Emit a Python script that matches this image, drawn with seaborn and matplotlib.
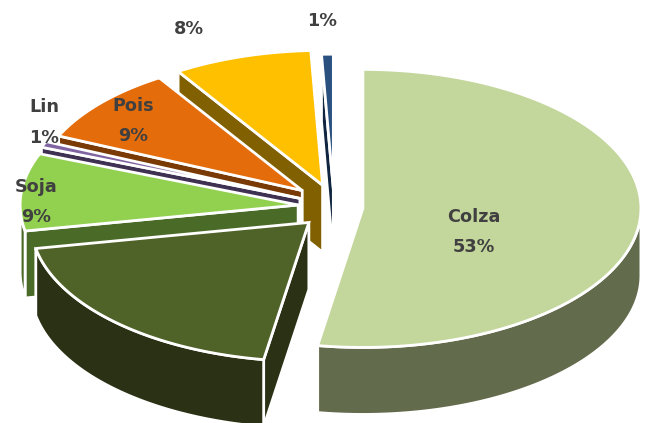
import numpy as np
import matplotlib
matplotlib.use("Agg")
import matplotlib.pyplot as plt
import seaborn as sns

# clockwise from 12 o'clock, labels in the chart are rounded
names = ["Colza", "", "Soja", "Lin", "Pois", "", ""]
values = [52.6, 19.4, 9, 0.7, 9.3, 8.3, 0.7]
show_pct = [True, False, True, True, True, True, True]

top_colors = ["#C3D69B", "#4F6228", "#92D050", "#8064A2", "#E46C0A", "#FFC000", "#2A5080"]
side_colors = ["#636B4D", "#2A3114", "#4A6A28", "#3F3151", "#7A3A05", "#806000", "#10253F"]
explode = [29, 36, 36, 37, 42, 38, 30]
# back slices look a bit smaller in the original (perspective)
radius_scale = [1, 1, 1, 1, 0.96, 0.97, 0.97]
label_pos = [(474, 217, 247), None, (36, 187, 217), (44, 107, 138), (133, 106, 136), (189, None, 29), (322, None, 21)]

cx, cy = 334, 207
rx, ry = 278, 139
depth = 67
ex_squash = 0.6


def ell(c, t, k):
    return c[0] + k * rx * np.sin(t), c[1] - k * ry * np.cos(t)


def draw_wedge(ax, c, a0, a1, k, top, side):
    edge = dict(edgecolor="white", linewidth=2, joinstyle="miter")
    # cut faces first, only those turned to the viewer
    for a, visible in ((a0, np.sin(a0) < -1e-9), (a1, np.sin(a1) > 1e-9)):
        if visible:
            x, y = ell(c, a, k)
            ax.fill([c[0], x, x, c[0]], [c[1], y, y + depth, c[1] + depth], facecolor=side, **edge)
    # outer rim, only the part facing the viewer
    lo, hi = max(a0, np.pi / 2), min(a1, 3 * np.pi / 2)
    if hi > lo:
        t = np.linspace(lo, hi, 200)
        x, y = ell(c, t, k)
        ax.fill(np.r_[x, x[::-1]], np.r_[y, y[::-1] + depth], facecolor=side, **edge)
    t = np.linspace(a0, a1, 200)
    x, y = ell(c, t, k)
    ax.fill(np.r_[c[0], x], np.r_[c[1], y], facecolor=top, **edge)


sns.set_theme(style="white")
fig = plt.figure(figsize=(6.45, 4.23), dpi=100)
ax = fig.add_axes([0, 0, 1, 1])
ax.set_xlim(0, 645)
ax.set_ylim(423, 0)
ax.axis("off")

angles = np.r_[0, np.cumsum(values)] / sum(values) * 2 * np.pi
for i in reversed(range(len(values))):
    mid = (angles[i] + angles[i + 1]) / 2
    c = (cx + explode[i] * np.sin(mid), cy - explode[i] * ex_squash * np.cos(mid))
    draw_wedge(ax, c, angles[i], angles[i + 1], radius_scale[i], top_colors[i], side_colors[i])

txt = dict(ha="center", va="center", color="#404040", fontsize=12.7, fontweight="bold", family="DejaVu Sans")
for name, v, show, pos in zip(names, values, show_pct, label_pos):
    if pos is None:
        continue
    x, y_name, y_pct = pos
    if y_name is not None:
        ax.text(x, y_name, name, **txt)
    if show:
        ax.text(x, y_pct, f"{v:.0f}%", **txt)

fig.savefig("out.png", dpi=100)
plt.close(fig)
